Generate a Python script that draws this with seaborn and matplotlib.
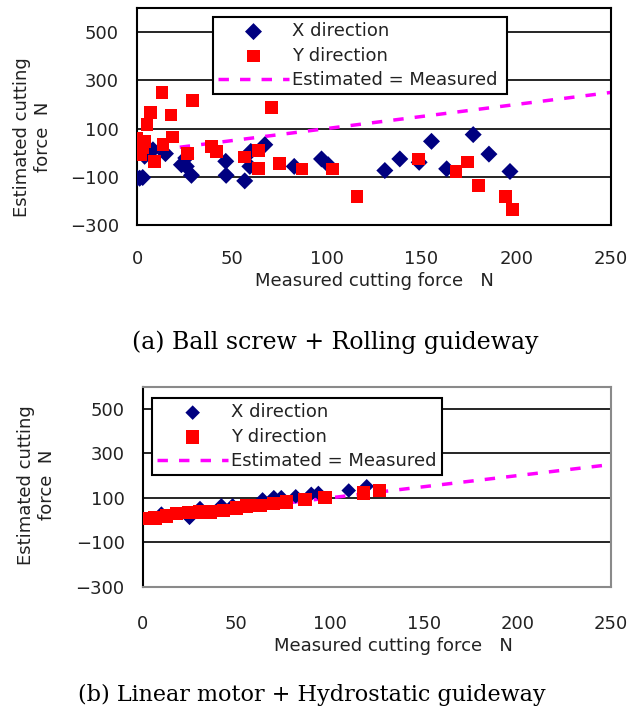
import numpy as np
import pandas as pd
import matplotlib
matplotlib.use("Agg")
import matplotlib.pyplot as plt
import seaborn as sns

# (a) Ball screw + Rolling guideway
a_x_meas = [0, 1.4, 3, 4, 8.4, 15, 23.4, 25.7, 26, 28.7, 46.8, 47, 56.8, 59.5, 60,
            67.4, 82.9, 97.3, 100.8, 130.7, 138.6, 148.8, 155.3, 163.3, 177.3, 185.6, 196.7]
a_x_est = [-105, -106, -103, -15, 12, -4, -50, -22, -57, -94, -36, -94, -117, -57, 5,
           33, -57, -26, -50, -74, -26, -40, 47, -67, 75, -6, -78]
a_y_meas = [13.2, 29.2, 7.2, 17.9, 5.3, 70.9, 0, 0.5, 1, 2, 3, 4, 18.7, 13.7, 9.3,
            26.6, 39.2, 41.9, 56.8, 63.9, 63.9, 75.3, 87, 103, 116, 148.3, 168.2,
            174.3, 180, 194.4, 198]
a_y_est = [251, 218, 168, 156, 117, 186, 60, 30, 0, -10, 20, 45, 65, 33, -35,
           -4, 26, 6, -18, 10, -67, -46, -68, -68, -182, -26, -78,
           -39, -137, -182, -237]

# (b) Linear motor + Hydrostatic guideway
b_x_meas = [10, 25, 30.6, 42, 48, 64, 70, 74, 81.7, 90, 93.8, 110, 119.6]
b_x_est = [29, 10, 54, 66, 66, 93, 103, 103, 107, 118, 122, 133, 152]
b_y_meas = [1.2, 6.6, 12.8, 18.1, 24.4, 30.6, 35.9, 43, 50.2, 55.5, 62.6, 69.8,
            76.9, 86.7, 97.3, 117.8, 126.3]
b_y_est = [6.7, 9.6, 18.5, 29, 33, 36, 36, 44, 54, 63, 66, 73,
           81, 93, 103, 122, 133]

ref_line = [0, 250]
x_ticks = [0, 50, 100, 150, 200, 250]
y_ticks = [-300, -100, 100, 300, 500]

captions = ["(a) Ball screw + Rolling guideway",
            "(b) Linear motor + Hydrostatic guideway"]

sns.set_style("white")
plt.rcParams["font.family"] = ["DejaVu Sans"]
plt.rcParams["font.size"] = 13

fig = plt.figure(figsize=(6.43, 7.17), dpi=100)
ax_a = fig.add_axes([0.2131, 0.6862, 0.7372, 0.3026])
ax_b = fig.add_axes([0.2219, 0.1817, 0.7283, 0.2789])


def draw_panel(ax, xm, xe, ym, ye, legend_box, xpad, ylab_xy, xlab_xy, dsize, ssize):
    sns.lineplot(x=ref_line, y=ref_line, ax=ax, color="#FF00FF", lw=2.5,
                 dashes=False, label="Estimated = Measured", zorder=2)
    ax.lines[-1].set_dashes([3, 3.2])
    sns.scatterplot(x=xm, y=xe, ax=ax, marker="D", color="#000080", s=dsize,
                    edgecolor="none", label="X direction", zorder=3)
    sns.scatterplot(x=ym, y=ye, ax=ax, marker="s", color="#FF0000", s=ssize,
                    edgecolor="none", label="Y direction", zorder=4)

    ax.set_xlim(0, 250)
    ax.set_ylim(-300, 600)
    ax.set_xticks(x_ticks)
    ax.set_yticks(y_ticks)
    ax.set_yticklabels([str(v).replace("-", "\u2212") for v in y_ticks])
    ax.yaxis.grid(True, color="black", lw=1.2)
    ax.set_axisbelow(True)
    ax.tick_params(axis="x", length=0, pad=xpad, labelsize=13, colors="#222222")
    ax.tick_params(axis="y", length=4, width=1, pad=9, labelsize=13, colors="#222222")
    for sp in ax.spines.values():
        sp.set_color("black")
        sp.set_linewidth(1.5)

    ax.set_xlabel("Measured cutting force   N", fontsize=13, color="#222222")
    ax.xaxis.set_label_coords(*xlab_xy)
    ax.set_ylabel("Estimated cutting\nforce  N", fontsize=13, color="#222222",
                  linespacing=1.2)
    ax.yaxis.set_label_coords(*ylab_xy)

    handles, labels = ax.get_legend_handles_labels()
    order = [labels.index(n) for n in ["X direction", "Y direction", "Estimated = Measured"]]
    leg = ax.legend([handles[i] for i in order], [labels[i] for i in order],
                    loc="upper left", bbox_to_anchor=legend_box, mode="expand",
                    frameon=True, fancybox=False, framealpha=1, edgecolor="black",
                    handlelength=3.9, handletextpad=0.2, labelspacing=0.35,
                    borderpad=0.3, borderaxespad=0, fontsize=13)
    leg.get_frame().set_linewidth(1.5)
    for t in leg.get_texts():
        t.set_color("#222222")
    leg.set_zorder(10)


draw_panel(ax_a, a_x_meas, a_x_est, a_y_meas, a_y_est,
           (0.16, 0.585, 0.62, 0.374), 18, (-0.179, 0.405), (0.5, -0.217), 75, 85)
draw_panel(ax_b, b_x_meas, b_x_est, b_y_meas, b_y_est,
           (0.02, 0.544, 0.62, 0.40), 20.5, (-0.185, 0.51), (0.535, -0.25), 55, 90)
for sp in ["top", "right", "bottom"]:
    ax_b.spines[sp].set_color("#8a8a8a")

fig.text(0.521, 0.523, captions[0], family="DejaVu Serif", fontsize=17,
         ha="center", va="center", color="black")
fig.text(0.485, 0.031, captions[1], family="DejaVu Serif", fontsize=16,
         ha="center", va="center", color="black")

fig.savefig("out.png", dpi=100)
